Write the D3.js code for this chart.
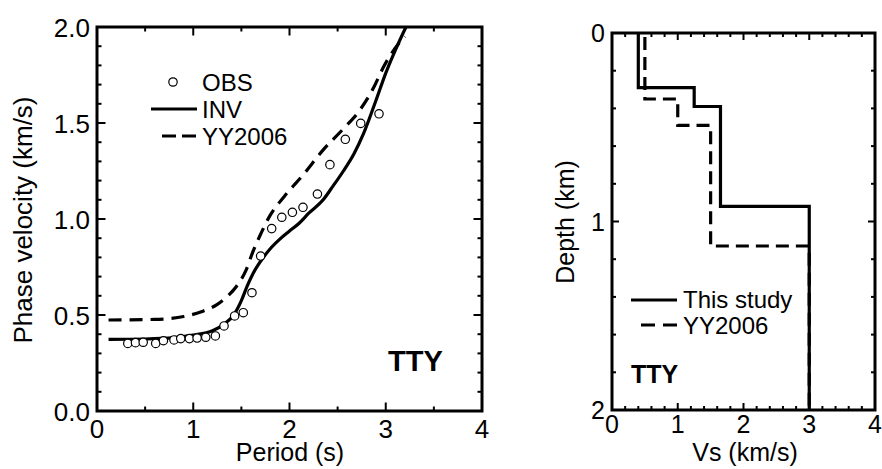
<!DOCTYPE html>
<html>
<head>
<meta charset="utf-8">
<script src="https://cdn.jsdelivr.net/npm/d3@7"></script>
<style>
  body { margin: 0; background: #fff; }
  svg text { font-family: "Liberation Sans", Arial, sans-serif; fill: #000; }
</style>
</head>
<body>
<svg id="fig" width="882" height="469"></svg>
<script>
// ---- dispersion curve (left) ----
const obsPeriod = [0.32, 0.40, 0.48, 0.61, 0.69, 0.80, 0.87, 0.96, 1.04, 1.13, 1.23, 1.32, 1.43, 1.52, 1.61,
  1.70, 1.815, 1.92, 2.03, 2.14, 2.29, 2.42, 2.58, 2.74, 2.93];
const obsVel = [0.352, 0.356, 0.358, 0.352, 0.366, 0.370, 0.377, 0.377, 0.380, 0.384, 0.391, 0.443, 0.495, 0.512, 0.616,
  0.807, 0.950, 1.009, 1.035, 1.061, 1.130, 1.283, 1.415, 1.498, 1.548];

const invPeriod = [0.12, 0.5, 0.8, 1.0, 1.2, 1.32, 1.42, 1.50, 1.56, 1.62, 1.70, 1.80, 1.90, 2.0, 2.1,
  2.2, 2.35, 2.45, 2.56, 2.67, 2.77, 2.9, 3.0, 3.1, 3.21];
const invVel = [0.373, 0.375, 0.382, 0.395, 0.418, 0.452, 0.50, 0.575, 0.65, 0.715, 0.78, 0.845, 0.895, 0.937, 0.978,
  1.03, 1.10, 1.17, 1.25, 1.34, 1.446, 1.62, 1.76, 1.88, 2.0];

const yyPeriod = [0.12, 0.6, 0.9, 1.1, 1.25, 1.35, 1.45, 1.55, 1.62, 1.69, 1.8, 1.95, 2.14, 2.35, 2.56, 2.72, 2.88, 2.975, 3.15, 3.2];
const yyVel = [0.474, 0.477, 0.492, 0.52, 0.555, 0.595, 0.65, 0.735, 0.83, 0.91, 1.02, 1.12, 1.229, 1.36, 1.47, 1.56, 1.69, 1.79, 1.923, 1.95];

// ---- Vs profile (right) ----
const thisDepth = [0, 0.29, 0.39, 0.92, 2.0];
const thisVs = [0.4, 1.25, 1.65, 3.0];
const yyDepth = [0, 0.35, 0.49, 1.13, 2.0];
const yyVs = [0.5, 1.0, 1.5, 3.0];

const leftTicksX = [0, 1, 2, 3, 4];
const leftTicksY = ["0.0", "0.5", "1.0", "1.5", "2.0"];
const rightTicksX = [0, 1, 2, 3, 4];
const rightTicksY = [0, 1, 2];

const svg = d3.select("#fig");

const xL = d3.scaleLinear().domain([0, 4]).range([97, 482]);
const yL = d3.scaleLinear().domain([0, 2]).range([411, 27]);
const xR = d3.scaleLinear().domain([0, 4]).range([612, 875]);
const yR = d3.scaleLinear().domain([0, 2]).range([33, 410]);

// inner ticks on all four sides
const drawTicks = (g, x, y, xMinor, yMinor, xMajor, yMajor, minorLen, majorLen) => {
  const [x0, x1] = x.range();
  const [yb, yt] = [Math.max(...y.range()), Math.min(...y.range())];
  const isMajor = (v, step) => Math.abs(v / step - Math.round(v / step)) < 1e-6;
  d3.range(0, 4.0001, xMinor).forEach(v => {
    const len = isMajor(v, xMajor) ? majorLen : minorLen;
    g.append("line").attr("x1", x(v)).attr("x2", x(v)).attr("y1", yb).attr("y2", yb - len);
    g.append("line").attr("x1", x(v)).attr("x2", x(v)).attr("y1", yt).attr("y2", yt + len);
  });
  d3.range(0, 2.0001, yMinor).forEach(v => {
    const len = isMajor(v, yMajor) ? majorLen : minorLen;
    g.append("line").attr("x1", x0).attr("x2", x0 + len).attr("y1", y(v)).attr("y2", y(v));
    g.append("line").attr("x1", x1).attr("x2", x1 - len).attr("y1", y(v)).attr("y2", y(v));
  });
  g.selectAll("line").attr("stroke", "#000").attr("stroke-width", 2);
};

///////////////////////////////////////
// left panel
///////////////////////////////////////
const gl = svg.append("g");
svg.append("clipPath").attr("id", "clipL")
  .append("rect").attr("x", 97).attr("y", 27).attr("width", 385).attr("height", 384);

drawTicks(gl.append("g"), xL, yL, 0.5, 0.1, 1, 0.5, 4.5, 8.5);

const curve = d3.line()
  .x(d => xL(d[0])).y(d => yL(d[1]))
  .curve(d3.curveMonotoneX);

const plotL = gl.append("g").attr("clip-path", "url(#clipL)");
plotL.append("path")
  .attr("d", curve(yyPeriod.map((p, i) => [p, yyVel[i]])))
  .attr("fill", "none").attr("stroke", "#000").attr("stroke-width", 3.2)
  .attr("stroke-dasharray", "13,8");
plotL.append("path")
  .attr("d", curve(invPeriod.map((p, i) => [p, invVel[i]])))
  .attr("fill", "none").attr("stroke", "#000").attr("stroke-width", 3.2);
plotL.selectAll(".obs")
  .data(obsPeriod.map((p, i) => [p, obsVel[i]]))
  .enter().append("circle")
  .attr("class", "obs")
  .attr("cx", d => xL(d[0])).attr("cy", d => yL(d[1]))
  .attr("r", 4.2)
  .attr("fill", "#fff").attr("stroke", "#000").attr("stroke-width", 1.2);

gl.append("rect")
  .attr("x", 97).attr("y", 27).attr("width", 385).attr("height", 384)
  .attr("fill", "none").attr("stroke", "#000").attr("stroke-width", 3);

gl.selectAll(".xlab").data(leftTicksX).enter().append("text")
  .attr("x", d => xL(d)).attr("y", 438)
  .attr("text-anchor", "middle").attr("font-size", 26)
  .text(d => d);
gl.selectAll(".ylab").data(leftTicksY).enter().append("text")
  .attr("x", 90).attr("y", d => yL(+d) + 9.5)
  .attr("text-anchor", "end").attr("font-size", 26)
  .text(d => d);

gl.append("text").attr("x", 290).attr("y", 461)
  .attr("text-anchor", "middle").attr("font-size", 25)
  .text("Period (s)");
gl.append("text").attr("transform", "translate(32,220) rotate(-90)")
  .attr("text-anchor", "middle").attr("font-size", 26)
  .text("Phase velocity (km/s)");

gl.append("text").attr("x", 388).attr("y", 371)
  .attr("font-size", 29).attr("font-weight", "bold")
  .text("TTY");

// legend
gl.append("circle").attr("cx", 173).attr("cy", 82).attr("r", 4.2)
  .attr("fill", "#fff").attr("stroke", "#000").attr("stroke-width", 1.2);
gl.append("line").attr("x1", 151).attr("x2", 197).attr("y1", 109).attr("y2", 109)
  .attr("stroke", "#000").attr("stroke-width", 3.2);
gl.append("line").attr("x1", 162).attr("x2", 197).attr("y1", 136).attr("y2", 136)
  .attr("stroke", "#000").attr("stroke-width", 3.2).attr("stroke-dasharray", "14,6");
[["OBS", 91], ["INV", 118], ["YY2006", 145]].forEach(([t, y]) => {
  gl.append("text").attr("x", 202).attr("y", y).attr("font-size", 24).text(t);
});

///////////////////////////////////////
// right panel
///////////////////////////////////////
const gr = svg.append("g");
drawTicks(gr.append("g"), xR, yR, 0.2, 0.2, 1, 1, 4, 7);

const steps = (depth, vs) => {
  const pts = [];
  vs.forEach((v, i) => {
    pts.push([v, depth[i]]);
    pts.push([v, depth[i + 1]]);
  });
  return pts;
};
const stepLine = d3.line().x(d => xR(d[0])).y(d => yR(d[1]));

gr.append("path")
  .attr("d", stepLine(steps(yyDepth, yyVs)))
  .attr("fill", "none").attr("stroke", "#000").attr("stroke-width", 3.2)
  .attr("stroke-dasharray", "13,7").attr("stroke-dashoffset", -4);
gr.append("path")
  .attr("d", stepLine(steps(thisDepth, thisVs)))
  .attr("fill", "none").attr("stroke", "#000").attr("stroke-width", 3.2);

gr.append("rect")
  .attr("x", 612).attr("y", 33).attr("width", 263).attr("height", 377)
  .attr("fill", "none").attr("stroke", "#000").attr("stroke-width", 3);

gr.selectAll(".xlab").data(rightTicksX).enter().append("text")
  .attr("x", d => xR(d)).attr("y", 433)
  .attr("text-anchor", "middle").attr("font-size", 25)
  .text(d => d);
gr.selectAll(".ylab").data(rightTicksY).enter().append("text")
  .attr("x", 605).attr("y", d => yR(d) + 9)
  .attr("text-anchor", "end").attr("font-size", 25)
  .text(d => d);

gr.append("text").attr("x", 745).attr("y", 461)
  .attr("text-anchor", "middle").attr("font-size", 25)
  .text("Vs (km/s)");
gr.append("text").attr("transform", "translate(574,222) rotate(-90)")
  .attr("text-anchor", "middle").attr("font-size", 25)
  .text("Depth (km)");

gr.append("text").attr("x", 631).attr("y", 383)
  .attr("font-size", 25).attr("font-weight", "bold")
  .text("TTY");

gr.append("line").attr("x1", 631).attr("x2", 677).attr("y1", 300).attr("y2", 300)
  .attr("stroke", "#000").attr("stroke-width", 3.2);
gr.append("line").attr("x1", 641).attr("x2", 677).attr("y1", 325).attr("y2", 325)
  .attr("stroke", "#000").attr("stroke-width", 3.2).attr("stroke-dasharray", "14,8");
gr.append("text").attr("x", 683).attr("y", 308).attr("font-size", 24).text("This study");
gr.append("text").attr("x", 683).attr("y", 334).attr("font-size", 24).text("YY2006");
</script>
</body>
</html>
